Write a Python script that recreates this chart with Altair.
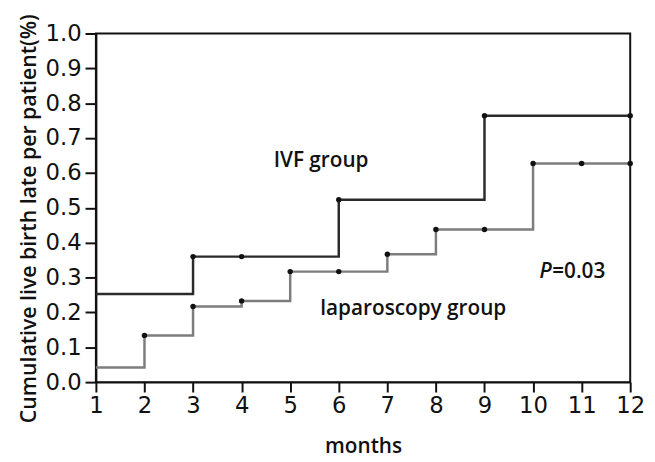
import altair as alt
import pandas as pd

months = [1, 2, 3, 4, 5, 6, 7, 8, 9, 10, 11, 12]
ivf_rate = [0.253, 0.253, 0.36, 0.36, 0.36, 0.523, 0.523, 0.523, 0.764, 0.764, 0.764, 0.764]
lap_rate = [0.042, 0.134, 0.217, 0.233, 0.317, 0.317, 0.367, 0.438, 0.438, 0.627, 0.627, 0.627]
ivf_dot_months = [3, 4, 6, 9, 12]
lap_dot_months = [2, 3, 4, 5, 6, 7, 8, 9, 10, 11, 12]
y_ticks = [0.0, 0.1, 0.2, 0.3, 0.4, 0.5, 0.6, 0.7, 0.8, 0.9, 1.0]

labels = ["IVF group", "laparoscopy group"]
label_month = [4.66, 5.62]
label_rate = [0.635, 0.21]
p_text = ["P", "=0.03"]

rows = []
for m, v in zip(months, ivf_rate):
    rows.append({"month": m, "rate": v, "group": "IVF", "dot": m in ivf_dot_months})
for m, v in zip(months, lap_rate):
    rows.append({"month": m, "rate": v, "group": "laparoscopy", "dot": m in lap_dot_months})
df = pd.DataFrame(rows)

xscale = alt.Scale(domain=[1, 12], nice=False, zero=False)
yscale = alt.Scale(domain=[0, 1], nice=False)

xaxis = alt.Axis(values=months, format="d", title="months", labelFont="DejaVu Sans",
                 labelFontSize=23, labelColor="#111", tickSize=10, tickWidth=2, tickColor="#111",
                 domainColor="#111", domainWidth=2, labelPadding=3, labelOverlap=False,
                 labelFlush=False, titleFont="Open Sans",
                 titleFontSize=21, titleFontWeight=600, titleColor="#111", titlePadding=18,
                 grid=False)
yaxis = alt.Axis(values=y_ticks, format=".1f", tickCount=11,
                 title="Cumulative live birth late per patient(%)", labelFont="DejaVu Sans",
                 labelFontSize=23, labelColor="#111", tickSize=11, tickWidth=2, tickColor="#111",
                 domainColor="#111", domainWidth=2, labelPadding=4, labelOverlap=False,
                 labelFlush=False, titleFont="Open Sans",
                 titleFontSize=21.5, titleFontWeight=600, titleColor="#111", titlePadding=5,
                 titleY=187, grid=False)

base = alt.Chart(df)

lines = base.mark_line(interpolate="step-after", strokeWidth=2.5).encode(
    x=alt.X("month:Q", scale=xscale, axis=xaxis),
    y=alt.Y("rate:Q", scale=yscale, axis=yaxis),
    color=alt.Color("group:N", scale=alt.Scale(domain=["IVF", "laparoscopy"],
                                                range=["#2b2b2b", "#7d7d7d"]), legend=None),
    detail="group:N",
)

dots = base.transform_filter(alt.datum.dot).mark_circle(size=30, color="#111", opacity=1).encode(
    x="month:Q", y="rate:Q"
)

lab_df = pd.DataFrame({"text": labels, "month": label_month, "rate": label_rate})
group_text = alt.Chart(lab_df).mark_text(font="Open Sans", fontSize=21, fontWeight=600, align="left",
                                         baseline="middle", color="#111").encode(
    x="month:Q", y="rate:Q", text="text:N")

p_df = pd.DataFrame({"text": [p_text[0]], "month": [10.13], "rate": [0.317]})
p2_df = pd.DataFrame({"text": [p_text[1]], "month": [10.13], "rate": [0.317]})
p1 = alt.Chart(p_df).mark_text(font="Open Sans", fontSize=21, fontWeight=600, fontStyle="italic",
                               align="left", baseline="middle", color="#111").encode(
    x="month:Q", y="rate:Q", text="text:N")
p2 = alt.Chart(p2_df).mark_text(font="Open Sans", fontSize=21, fontWeight=600, align="left", dx=13,
                                baseline="middle", color="#111").encode(
    x="month:Q", y="rate:Q", text="text:N")

chart = alt.layer(lines, dots, group_text, p1, p2).properties(
    width=541, height=353,
    autosize=alt.AutoSizeParams(type="none"),
    padding={"left": 89, "top": 23, "right": 17, "bottom": 74},
    background="white",
).configure_view(stroke="#111", strokeWidth=2)

chart.save("out.html", embed_options={"renderer": "svg", "actions": False})
